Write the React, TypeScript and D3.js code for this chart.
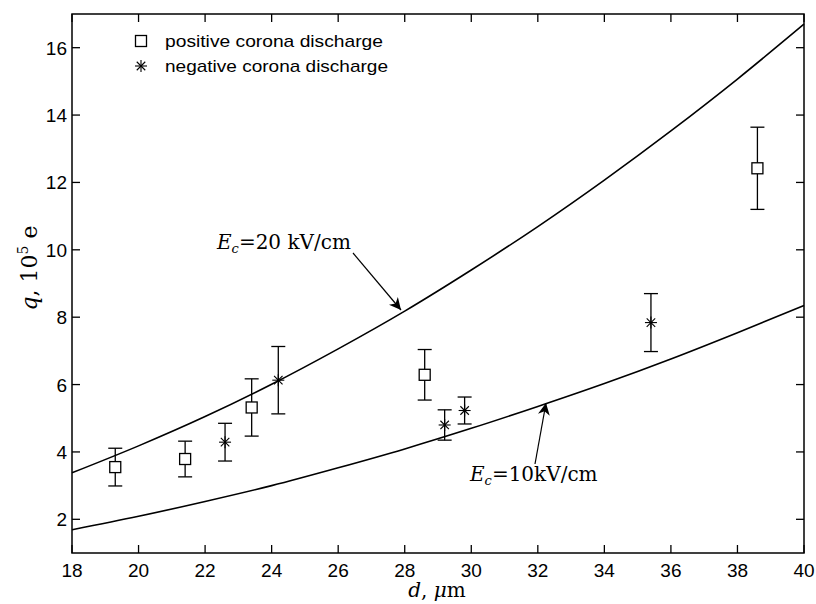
import React from "react";
import * as d3 from "d3";

const curveX = [18, 20, 22, 24, 26, 28, 30, 32, 34, 36, 38, 40];
const curve20 = [3.38, 4.18, 5.05, 6.01, 7.06, 8.18, 9.4, 10.69, 12.07, 13.53, 15.07, 16.7];
const curve10 = [1.69, 2.09, 2.53, 3.0, 3.53, 4.09, 4.7, 5.35, 6.03, 6.76, 7.54, 8.35];

const posX = [19.3, 21.4, 23.4, 28.6, 38.6];
const posY = [3.55, 3.79, 5.32, 6.29, 12.42];
const posErr = [0.56, 0.53, 0.85, 0.75, 1.22];

const negX = [22.6, 24.2, 29.2, 29.8, 35.4];
const negY = [4.29, 6.13, 4.8, 5.23, 7.84];
const negErr = [0.56, 1.0, 0.45, 0.4, 0.86];

const xTicks = [18, 20, 22, 24, 26, 28, 30, 32, 34, 36, 38, 40];
const yTicks = [2, 4, 6, 8, 10, 12, 14, 16];

const legendLabels = ["positive corona discharge", "negative corona discharge"];

export default function App() {
  const W = 816, H = 604;
  const m = { l: 72, r: 804, t: 14, b: 553 };
  const x = d3.scaleLinear().domain([18, 40]).range([m.l, m.r]);
  const y = d3.scaleLinear().domain([1, 17]).range([m.b, m.t]);
  const line = d3.line<number>().x((_, i) => x(curveX[i])).y((v) => y(v)).curve(d3.curveMonotoneX);
  const tl = 8;
  const sans = "'Liberation Sans', Arial, sans-serif";
  const serif = "'DejaVu Serif', 'Liberation Serif', serif";

  const errBar = (cx: number, cy: number, e: number, key: string) => (
    <g key={key} stroke="#000" strokeWidth={1.3}>
      <line x1={x(cx)} x2={x(cx)} y1={y(cy + e)} y2={y(cy - e)} />
      <line x1={x(cx) - 7} x2={x(cx) + 7} y1={y(cy + e)} y2={y(cy + e)} />
      <line x1={x(cx) - 7} x2={x(cx) + 7} y1={y(cy - e)} y2={y(cy - e)} />
    </g>
  );
  const square = (px: number, py: number, key: string) => (
    <rect key={key} x={px - 5.5} y={py - 5.5} width={11} height={11} fill="#fff" stroke="#000" strokeWidth={1.3} />
  );
  const star = (px: number, py: number, key: string) => {
    const r = 6;
    const angs = [0, 45, 90, 135];
    return (
      <g key={key} stroke="#000" strokeWidth={1.1}>
        {angs.map((a) => {
          const rad = (a * Math.PI) / 180;
          return <line key={a} x1={px - r * Math.cos(rad)} y1={py - r * Math.sin(rad)} x2={px + r * Math.cos(rad)} y2={py + r * Math.sin(rad)} />;
        })}
      </g>
    );
  };

  return (
    <svg width={W} height={H} style={{ position: "absolute", left: 0, top: 0, background: "#fff" }}>
      <defs>
        <marker id="ah" viewBox="0 0 10 10" refX="10" refY="5" markerWidth="12" markerHeight="12" markerUnits="userSpaceOnUse" orient="auto">
          <path d="M0,0 L10,5 L0,10 L3,5 Z" fill="#000" />
        </marker>
      </defs>
      <rect x={0} y={0} width={W} height={H} fill="#fff" />
      {/* curves */}
      <path d={line(curve20) || ""} fill="none" stroke="#000" strokeWidth={1.6} />
      <path d={line(curve10) || ""} fill="none" stroke="#000" strokeWidth={1.6} />
      {/* frame */}
      <rect x={m.l} y={m.t} width={m.r - m.l} height={m.b - m.t} fill="none" stroke="#000" strokeWidth={1.5} />
      {xTicks.map((t) => (
        <g key={"x" + t}>
          <line x1={x(t)} x2={x(t)} y1={m.b} y2={m.b - tl} stroke="#000" strokeWidth={1.3} />
          <line x1={x(t)} x2={x(t)} y1={m.t} y2={m.t + tl} stroke="#000" strokeWidth={1.3} />
          <text x={x(t)} y={m.b + 24} textAnchor="middle" fontFamily={sans} fontSize={19}>{t}</text>
        </g>
      ))}
      {yTicks.map((t) => (
        <g key={"y" + t}>
          <line x1={m.l} x2={m.l + tl} y1={y(t)} y2={y(t)} stroke="#000" strokeWidth={1.3} />
          <line x1={m.r} x2={m.r - tl} y1={y(t)} y2={y(t)} stroke="#000" strokeWidth={1.3} />
          <text x={m.l - 5} y={y(t) + 7} textAnchor="end" fontFamily={sans} fontSize={19}>{t}</text>
        </g>
      ))}
      {/* error bars and markers */}
      {posX.map((v, i) => errBar(v, posY[i], posErr[i], "pe" + i))}
      {negX.map((v, i) => errBar(v, negY[i], negErr[i], "ne" + i))}
      {posX.map((v, i) => square(x(v), y(posY[i]), "ps" + i))}
      {negX.map((v, i) => star(x(v), y(negY[i]), "ns" + i))}
      {/* legend */}
      {square(141, 41, "lg1")}
      {star(141, 66, "lg2")}
      <text x={165} y={47} fontFamily={sans} fontSize={17} textLength={218} lengthAdjust="spacingAndGlyphs">{legendLabels[0]}</text>
      <text x={165} y={72} fontFamily={sans} fontSize={17} textLength={223} lengthAdjust="spacingAndGlyphs">{legendLabels[1]}</text>
      {/* annotations */}
      <text x={217} y={249} fontFamily={serif} fontSize={20}>
        <tspan fontStyle="italic">E</tspan>
        <tspan fontStyle="italic" fontSize={13} dy={4}>c</tspan>
        <tspan dy={-4}>=20 kV/cm</tspan>
      </text>
      <line x1={353} y1={253} x2={401} y2={310} stroke="#000" strokeWidth={1.2} markerEnd="url(#ah)" />
      <text x={470} y={481} fontFamily={serif} fontSize={20}>
        <tspan fontStyle="italic">E</tspan>
        <tspan fontStyle="italic" fontSize={13} dy={4}>c</tspan>
        <tspan dy={-4}>=10kV/cm</tspan>
      </text>
      <line x1={535} y1={464} x2={546} y2={403} stroke="#000" strokeWidth={1.2} markerEnd="url(#ah)" />
      {/* axis labels */}
      <text x={437} y={597} textAnchor="middle" fontFamily={serif} fontSize={20}>
        <tspan fontStyle="italic">d</tspan>
        <tspan>, </tspan>
        <tspan fontStyle="italic">μ</tspan>
        <tspan>m</tspan>
      </text>
      <text transform="translate(37,268) rotate(-90)" textAnchor="middle" fontFamily={serif} fontSize={22}>
        <tspan fontStyle="italic">q</tspan>
        <tspan>, 10</tspan>
        <tspan fontSize={14} dy={-9}>5</tspan>
        <tspan dy={9}> e</tspan>
      </text>
    </svg>
  );
}
